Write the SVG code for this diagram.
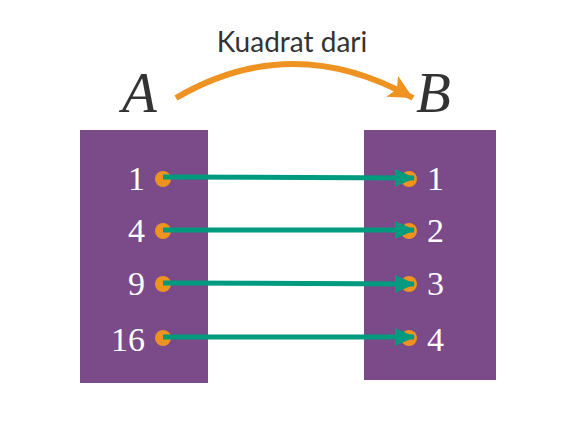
<svg xmlns="http://www.w3.org/2000/svg" width="581" height="431" viewBox="0 0 581 431">
<style>
.box{fill:#7A4A89}
.num{font-family:"Liberation Serif",serif;font-size:34px;fill:#fff}
.set{font-family:"Liberation Serif",serif;font-style:italic;font-size:57px;fill:#333}
.dot{fill:#EE9322}
.conn{stroke:#009A7E;stroke-width:5;fill:none}
</style>
<defs>
<marker id="gh" markerUnits="userSpaceOnUse" markerWidth="21" markerHeight="18" refX="19" refY="9" orient="auto" viewBox="0 0 21 18">
<path d="M0,0 L20,9 L0,18 Z" fill="#009A7E"/>
</marker>
<marker id="oh" markerUnits="userSpaceOnUse" markerWidth="26" markerHeight="24" refX="22" refY="11" orient="auto" viewBox="0 0 24 22">
<path d="M0,0 L22,11 L0,22 L5,11 Z" fill="#EE9322"/>
</marker>
</defs>
<rect width="581" height="431" fill="#fff"/>
<g id="title">
<text x="292" y="52" text-anchor="middle" font-family="Lato,sans-serif" font-size="28" fill="#333">Kuadrat dari</text>
</g>
<g id="setA"><text class="set" x="122" y="112">A</text></g>
<g id="setB"><text class="set" x="416" y="112">B</text></g>
<g id="boxA">
<rect class="box" x="80" y="130" width="128" height="253"/>
<text class="num" x="145" y="190" text-anchor="end">1</text>
<text class="num" x="145" y="242" text-anchor="end">4</text>
<text class="num" x="145" y="295" text-anchor="end">9</text>
<text class="num" x="145" y="351" text-anchor="end">16</text>
<circle class="dot" cx="163" cy="179" r="8"/>
<circle class="dot" cx="163" cy="231" r="8"/>
<circle class="dot" cx="163" cy="284" r="8"/>
<circle class="dot" cx="163" cy="338" r="8"/>
</g>
<g id="boxB">
<rect class="box" x="364" y="130" width="132" height="250"/>
<text class="num" x="427" y="190">1</text>
<text class="num" x="427" y="242">2</text>
<text class="num" x="427" y="295">3</text>
<text class="num" x="427" y="351">4</text>
<circle class="dot" cx="409" cy="179" r="8"/>
<circle class="dot" cx="409" cy="231" r="8"/>
<circle class="dot" cx="409" cy="284" r="8"/>
<circle class="dot" cx="409" cy="338" r="8"/>
</g>
<g id="connectors">
<path class="conn" d="M163,177 L414,178" marker-end="url(#gh)"/>
<path class="conn" d="M163,230 L414,230" marker-end="url(#gh)"/>
<path class="conn" d="M163,283 L414,284" marker-end="url(#gh)"/>
<path class="conn" d="M163,337 L414,337" marker-end="url(#gh)"/>
<path d="M176,98 Q292,30 413,98" stroke="#EE9322" stroke-width="6" fill="none" marker-end="url(#oh)"/>
</g>
</svg>
